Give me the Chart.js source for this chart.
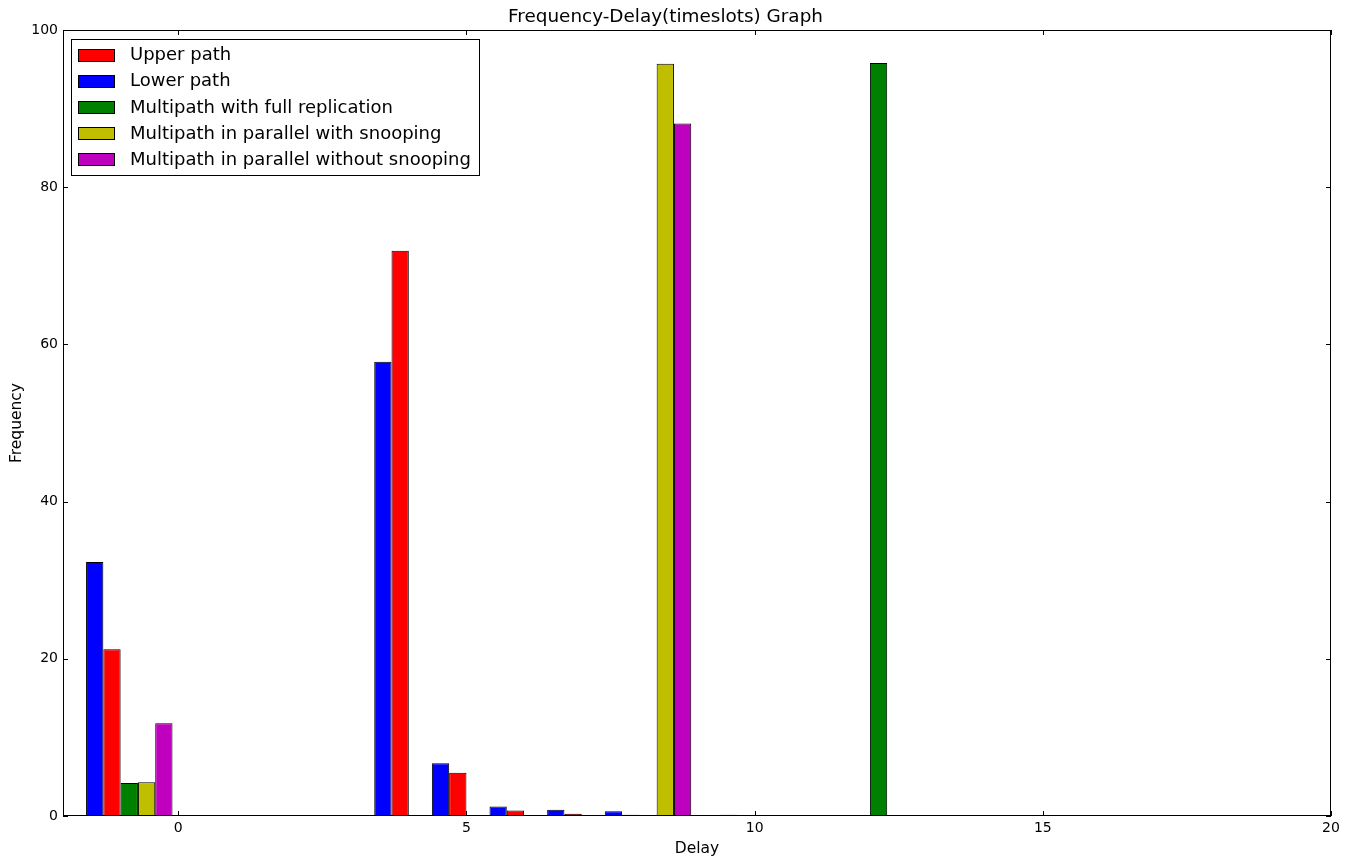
<!DOCTYPE html>
<html>
<head>
<meta charset="utf-8">
<script src="https://cdn.jsdelivr.net/npm/chart.js@4.4.0/dist/chart.umd.min.js"></script>
<style>
html, body { margin: 0; padding: 0; background: #ffffff; }
#wrap { width: 1348px; height: 858px; }
</style>
</head>
<body>
<div id="wrap"><canvas id="c" width="1348" height="858"></canvas></div>
<script>
// ---- data ----
const delays             = [0, 5, 6, 7, 8, 9, 10, 11, 12, 13];
const upperPath          = [21.2, 71.9, 5.5, 0.7, 0.3, 0.15, 0.1, 0, 0.1, 0.05];
const lowerPath          = [32.3, 57.8, 6.7, 1.2, 0.8, 0.6, 0, 0.15, 0.05, 0];
const fullReplication    = [4.2, 0, 0, 0, 0, 0, 0, 0, 0, 95.8];
const parallelSnooping   = [4.3, 0, 0, 0, 0, 95.7, 0, 0, 0, 0];
const parallelNoSnooping = [11.8, 0, 0, 0, 0, 88.1, 0, 0, 0, 0];
const seriesLabels = [
  'Upper path',
  'Lower path',
  'Multipath with full replication',
  'Multipath in parallel with snooping',
  'Multipath in parallel without snooping'
];
const xTickValues = [0, 5, 10, 15, 20];
const yTickValues = [0, 20, 40, 60, 80, 100];

// ---- presentation ----
const FONT = "'DejaVu Sans', 'Liberation Sans', sans-serif";
const colors = ['#ff0000', '#0000ff', '#008000', '#bfbf00', '#bf00bf'];
// bar centre offset (in delay units) of each series relative to its delay bin
const binOffsets = [-1.15, -1.45, -0.85, -0.55, -0.25];
const barWidthUnits = 0.3;
const X_MIN = -2, X_MAX = 20;
const PLOT_W = 1348 - 63 - 17;
const barPx = barWidthUnits * PLOT_W / (X_MAX - X_MIN);

const seriesValues = [upperPath, lowerPath, fullReplication, parallelSnooping, parallelNoSnooping];

const datasets = seriesValues.map((vals, s) => ({
  label: seriesLabels[s],
  data: delays.map((d, i) => ({ x: d + binOffsets[s], y: vals[i] })).filter(p => p.y > 0),
  backgroundColor: colors[s],
  borderColor: '#000000',
  borderWidth: 1,
  inflateAmount: 0,
  grouped: false,
  barPercentage: 20,
  categoryPercentage: 1,
  maxBarThickness: barPx,
  order: seriesValues.length - 1 - s
}));

const frame = {
  id: 'mplFrame',
  afterDatasetsDraw(chart) {
    const { ctx, chartArea: a, scales } = chart;
    ctx.save();
    ctx.strokeStyle = '#000000';
    ctx.lineWidth = 1;
    ctx.strokeRect(Math.round(a.left) + 0.5, Math.round(a.top) + 0.5,
                   Math.round(a.right - a.left) - 1, Math.round(a.bottom - a.top) - 1);
    const TL = 5;
    ctx.beginPath();
    xTickValues.forEach(v => {
      const px = Math.round(scales.x.getPixelForValue(v)) + 0.5;
      ctx.moveTo(px, a.bottom); ctx.lineTo(px, a.bottom - TL);
      ctx.moveTo(px, a.top); ctx.lineTo(px, a.top + TL);
    });
    yTickValues.forEach(v => {
      const py = Math.round(scales.y.getPixelForValue(v)) + 0.5;
      ctx.moveTo(a.left, py); ctx.lineTo(a.left + TL, py);
      ctx.moveTo(a.right, py); ctx.lineTo(a.right - TL, py);
    });
    ctx.stroke();
    ctx.restore();
  },
  afterDraw(chart) {
    const { ctx, chartArea: a } = chart;
    const x0 = Math.round(a.left) + 8, y0 = Math.round(a.top) + 9;
    const w = 408, h = 136;
    ctx.save();
    ctx.fillStyle = '#ffffff';
    ctx.fillRect(x0, y0, w, h);
    ctx.strokeStyle = '#000000';
    ctx.lineWidth = 1;
    ctx.strokeRect(x0 + 0.5, y0 + 0.5, w, h);
    ctx.font = '18px ' + FONT;
    ctx.textBaseline = 'middle';
    ctx.textAlign = 'left';
    chart.data.datasets.forEach((ds, i) => {
      const cy = y0 + 15.5 + i * 26.2;
      ctx.fillStyle = ds.backgroundColor;
      ctx.fillRect(x0 + 7, Math.round(cy - 6), 36, 12);
      ctx.strokeStyle = '#000000';
      ctx.strokeRect(x0 + 7.5, Math.round(cy - 6) + 0.5, 36, 12);
      ctx.fillStyle = '#000000';
      ctx.fillText(ds.label, x0 + 59, cy + 1);
    });
    ctx.restore();
  }
};

new Chart(document.getElementById('c'), {
  type: 'bar',
  data: { datasets },
  options: {
    responsive: false,
    animation: false,
    events: [],
    layout: { padding: { left: 0, right: 17, top: 0, bottom: 0 } },
    plugins: {
      legend: { display: false },
      tooltip: { enabled: false },
      title: {
        display: true,
        text: 'Frequency-Delay(timeslots) Graph',
        color: '#000000',
        font: { family: FONT, size: 18.4, weight: 'normal', lineHeight: 1.2 },
        padding: { top: 6.5, bottom: 1.4 }
      }
    },
    scales: {
      x: {
        type: 'linear',
        min: X_MIN, max: X_MAX,
        offset: false,
        grid: { display: false, drawTicks: false, offset: false },
        border: { display: false },
        afterBuildTicks(scale) { scale.ticks = xTickValues.map(v => ({ value: v })); },
        afterFit(scale) { scale.height = 42; },
        ticks: {
          color: '#000000',
          font: { family: FONT, size: 14 },
          padding: 4,
          maxRotation: 0,
          autoSkip: false,
          callback: v => String(v)
        },
        title: {
          display: true, text: 'Delay', color: '#000000',
          font: { family: FONT, size: 15.5 },
          padding: { top: 0, bottom: 0 }
        }
      },
      y: {
        type: 'linear',
        min: 0, max: 100,
        grid: { display: false, drawTicks: false },
        border: { display: false },
        afterBuildTicks(scale) { scale.ticks = yTickValues.map(v => ({ value: v })); },
        afterFit(scale) { scale.width = 63; },
        ticks: {
          color: '#000000',
          font: { family: FONT, size: 14 },
          padding: 5,
          autoSkip: false,
          callback: v => String(v)
        },
        title: {
          display: true, text: 'Frequency', color: '#000000',
          font: { family: FONT, size: 15.5 },
          padding: { top: 8, bottom: 0 }
        }
      }
    }
  },
  plugins: [frame]
});
</script>
</body>
</html>
